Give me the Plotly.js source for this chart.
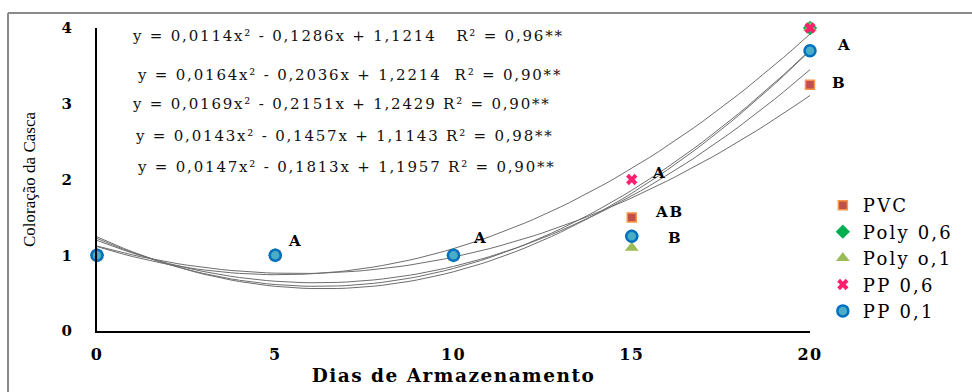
<!DOCTYPE html>
<html>
<head>
<meta charset="utf-8">
<script src="https://cdn.plot.ly/plotly-3.0.1.min.js"></script>
<style>
html,body{margin:0;padding:0;background:#fff;}
#chart{width:972px;height:392px;}
.annotation-text{letter-spacing:1.8px;}
.legendtext{letter-spacing:2.2px;}
.xtitle{letter-spacing:1.5px;}
.xtick text{letter-spacing:1.5px;}
</style>
</head>
<body>
<div id="chart"></div>
<script>
// Data
const days = [0, 5, 10, 15, 20];
const seriesNames = ["PVC", "Poly 0,6", "Poly o,1", "PP 0,6", "PP 0,1"];
const pvc     = [1, 1, 1, 1.5, 3.25];
const poly06  = [1, 1, 1, 1.25, 4];
const poly01  = [1, 1, 1, 1.1, 4];
const pp06    = [1, 1, 1, 2, 4];
const pp01    = [1, 1, 1, 1.25, 3.7];

// Trendline coefficients (a x^2 + b x + c) as printed on the chart
const coefA = [0.0114, 0.0164, 0.0169, 0.0143, 0.0147];
const coefB = [-0.1286, -0.2036, -0.2151, -0.1457, -0.1813];
const coefC = [1.1214, 1.2214, 1.2429, 1.1143, 1.1957];
const equationLabels = [
  "y = 0,0114x² - 0,1286x + 1,1214   R² = 0,96**",
  "y = 0,0164x² - 0,2036x + 1,2214  R² = 0,90**",
  "y = 0,0169x² - 0,2151x + 1,2429 R² = 0,90**",
  "y = 0,0143x² - 0,1457x + 1,1143 R² = 0,98**",
  "y = 0,0147x² - 0,1813x + 1,1957 R² = 0,90**"
];
const equationX = [0.93, 1.07, 0.93, 1.0, 1.07];
const equationY = [3.89, 3.38, 3.0, 2.58, 2.17];

// Significance letters
const letterText = ["A", "A", "A", "AB", "B", "A", "B"];
const letterX    = [5.3, 10.5, 15.5, 15.6, 15.95, 20.7, 20.55];
const letterY    = [1.19, 1.23, 2.08, 1.57, 1.23, 3.78, 3.28];

const xMax = 20;
const serif = '"Liberation Serif", serif';
const wide = '"DejaVu Serif", serif';
const traces = [];

// trend curves
const xs = [];
for (let i = 0; i <= 80; i++) xs.push(i * 0.25);
for (let k = 0; k < coefA.length; k++) {
  traces.push({
    x: xs, y: xs.map(x => coefA[k]*x*x + coefB[k]*x + coefC[k]),
    mode: "lines", line: {color: "#6e6e6e", width: 1}, showlegend: false,
    hoverinfo: "skip", cliponaxis: false
  });
}

const styles = [
  {symbol: "square", size: 9, color: "#C0504D", line: {color: "#F79646", width: 1.5}},
  {symbol: "diamond", size: 11, color: "#00B050", line: {width: 0}},
  {symbol: "triangle-up", size: 12, color: "#9BBB59", line: {width: 0}},
  {symbol: "x", size: 10, color: "#FF1F6F", line: {width: 0}},
  {symbol: "circle", size: 11, color: "#4BACC6", line: {color: "#0070C0", width: 2.5}}
];
const vals = [pvc, poly06, poly01, pp06, pp01];
for (let k = 0; k < vals.length; k++) {
  traces.push({
    x: days, y: vals[k], name: seriesNames[k], mode: "markers",
    marker: styles[k], cliponaxis: false
  });
}

const annotations = [];
for (let i = 0; i < equationLabels.length; i++) {
  annotations.push({
    x: equationX[i], y: equationY[i], xref: "x", yref: "y", text: equationLabels[i],
    showarrow: false, xanchor: "left", yanchor: "middle",
    font: {family: wide, size: 15, color: "#111"}
  });
}
for (let i = 0; i < letterText.length; i++) {
  annotations.push({
    x: letterX[i] / xMax, y: letterY[i], xref: "paper", yref: "y", text: "<b>" + letterText[i] + "</b>",
    showarrow: false, xanchor: "left", yanchor: "middle",
    font: {family: wide, size: 15, color: "#000"}
  });
}

const layout = {
  width: 972, height: 392,
  margin: {l: 97, r: 162, t: 28, b: 61},
  paper_bgcolor: "#fff", plot_bgcolor: "#fff",
  font: {family: serif},
  showlegend: true,
  legend: {x: 1.018, y: 0.475, xanchor: "left", yanchor: "top",
    font: {family: wide, size: 18, color: "#000"}, tracegroupgap: 0, itemwidth: 30,
    bgcolor: "rgba(0,0,0,0)"},
  xaxis: {
    range: [0, xMax], tickvals: days, ticktext: ["0","5","10","15","20"],
    showgrid: false, zeroline: false, showline: true, linecolor: "#000", linewidth: 2,
    ticks: "", ticklabelstandoff: 8,
    tickfont: {family: wide, size: 16, color: "#000", weight: "bold"},
    title: {text: "<b>Dias de Armazenamento</b>", font: {family: wide, size: 18.5, color: "#000"}, standoff: 6}
  },
  yaxis: {
    range: [0, 4], tickvals: [0,1,2,3,4],
    showgrid: false, zeroline: false, showline: true, linecolor: "#000", linewidth: 2,
    ticks: "", ticklabelstandoff: 20,
    tickfont: {family: wide, size: 15, color: "#000", weight: "bold"},
    title: {text: "Coloração da Casca", font: {family: serif, size: 17, color: "#000"}, standoff: 22}
  },
  annotations: annotations,
  shapes: [
    {type: "line", xref: "paper", yref: "paper", x0: -0.1248, x1: 1.3, y0: 1.0495, y1: 1.0495,
      line: {color: "#8a8a8a", width: 2}},
    {type: "line", xref: "paper", yref: "paper", x0: -0.1248, x1: -0.1248, y0: 1.0495, y1: -0.3,
      line: {color: "#8a8a8a", width: 2}}
  ]
};

Plotly.newPlot("chart", traces, layout, {displayModeBar: false, staticPlot: true});
</script>
</body>
</html>
